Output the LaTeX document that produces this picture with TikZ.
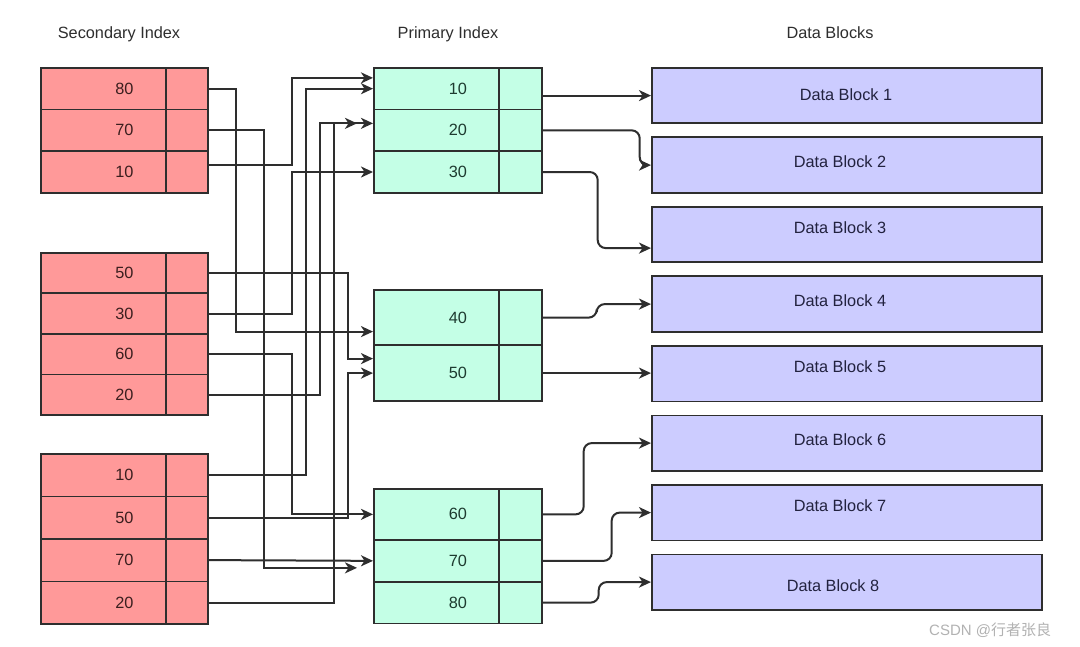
\documentclass[tikz,border=0pt]{standalone}
\usepackage{fontspec}
\setmainfont{Liberation Sans}
\newfontfamily\cjk{Noto Sans CJK SC}
\usetikzlibrary{arrows.meta,calc}
\definecolor{redfill}{HTML}{FF9999}
\definecolor{greenfill}{HTML}{C4FFE6}
\definecolor{bluefill}{HTML}{CCCCFF}
\definecolor{edge}{HTML}{2E2E2E}
\definecolor{sectext}{HTML}{3B1E1E}
\definecolor{pritext}{HTML}{1E3B30}
\definecolor{dbtext}{HTML}{22223F}
\definecolor{headtext}{HTML}{2E2E2E}
\begin{document}
\begin{tikzpicture}[x=1pt,y=-1pt,font=\fontsize{16.3}{19}\selectfont,
  cell/.style={draw=edge,line width=1.7pt,inner sep=0pt,anchor=north west},
  srow/.style={cell,fill=redfill,minimum width=167,text=sectext},
  prow/.style={cell,fill=greenfill,minimum width=168,text=pritext},
  sptr/.style={draw=edge,line width=1.7pt,inner sep=0pt,minimum width=42,anchor=north east},
  pptr/.style={draw=edge,line width=1.7pt,inner sep=0pt,minimum width=43,anchor=north east},
  dblock/.style={cell,fill=bluefill,minimum width=390,minimum height=55.5},
  dblabel/.style={text=dbtext,inner sep=0pt},
  header/.style={text=headtext,anchor=base,inner sep=0pt},
  conn/.style={draw=edge,line width=2pt,-{Stealth[length=12pt,width=11pt,inset=3.5pt]}},
  rconn/.style={conn,rounded corners=8pt}]
\fill[white] (0,0) rectangle (1080,647);
\useasboundingbox (0,0) rectangle (1080,647);

% headers
\node[header] (hs) at (119,38.5) {Secondary Index};
\node[header] (hp) at (448,38.5) {Primary Index};
\node[header] (hd) at (830,38.5) {Data Blocks};

% secondary index group 1
\node[srow,minimum height=41.67] (s1) at (40,67) {80};
\node[srow,minimum height=41.67] (s2) at (40,108.67) {70};
\node[srow,minimum height=41.67] (s3) at (40,150.33) {10};
% group 2
\node[srow,minimum height=40.5] (s4) at (40,252) {50};
\node[srow,minimum height=40.5] (s5) at (40,292.5) {30};
\node[srow,minimum height=40.5] (s6) at (40,333) {60};
\node[srow,minimum height=40.5] (s7) at (40,373.5) {20};
% group 3
\node[srow,minimum height=42.5] (s8) at (40,453) {10};
\node[srow,minimum height=42.5] (s9) at (40,495.5) {50};
\node[srow,minimum height=42.5] (s10) at (40,538) {70};
\node[srow,minimum height=42.5] (s11) at (40,580.5) {20};
% pointer cells
\foreach \n/\h in {s1/41.67,s2/41.67,s3/41.67,s4/40.5,s5/40.5,s6/40.5,s7/40.5,s8/42.5,s9/42.5,s10/42.5,s11/42.5}
  \node[sptr,minimum height=\h] (\n p) at (\n.north east) {};

% primary index
\node[prow,minimum height=41.67] (p1) at (373,67) {10};
\node[prow,minimum height=41.67] (p2) at (373,108.67) {20};
\node[prow,minimum height=41.67] (p3) at (373,150.33) {30};
\node[prow,minimum height=55.5] (p4) at (373,289) {40};
\node[prow,minimum height=55.5] (p5) at (373,344.5) {50};
\node[prow,minimum height=51] (p6) at (373,488) {60};
\node[prow,minimum height=42] (p7) at (373,539) {70};
\node[prow,minimum height=41.5] (p8) at (373,581) {80};
\foreach \n/\h in {p1/41.67,p2/41.67,p3/41.67,p4/55.5,p5/55.5,p6/51,p7/42,p8/41.5}
  \node[pptr,minimum height=\h] (\n p) at (\n.north east) {};

% data blocks
\node[dblock] (db1) at (651,67) {};
\node[dblock] (db2) at (651,136.5) {};
\node[dblock] (db3) at (651,206) {};
\node[dblock] (db4) at (651,275.5) {};
\node[dblock] (db5) at (651,345) {};
\node[dblock] (db6) at (651,414.5) {};
\node[dblock] (db7) at (651,484) {};
\node[dblock] (db8) at (651,553.5) {};
\node[dblabel] (t1) at (846,95) {Data Block 1};
\node[dblabel] (t2) at (840,162) {Data Block 2};
\node[dblabel] (t3) at (840,228) {Data Block 3};
\node[dblabel] (t4) at (840,301) {Data Block 4};
\node[dblabel] (t5) at (840,367) {Data Block 5};
\node[dblabel] (t6) at (840,440) {Data Block 6};
\node[dblabel] (t7) at (840,506) {Data Block 7};
\node[dblabel] (t8) at (833,586) {Data Block 8};

% secondary -> primary connectors
\draw[conn] (s1.east) -- ++(27,0) |- ($(p4.west)+(0,14)$);
\draw[conn] (s2.east) -- ++(55,0) |- ($(p7.west)+(-16,7)$);
\draw[conn] ($(s3.east)+(0,-7)$) -- ++(83,0) |- ($(p1.west)+(0,-10.8)$);
\draw[conn] (s4.east) -- ++(139,0) |- ($(p5.west)+(0,-14.5)$);
\draw[conn] (s5.east) -- ++(83,0) |- (p3.west);
\draw[conn] (s6.east) -- ++(83,0) |- (p6.west);
\draw[conn] (s7.east) -- ++(111,0) |- ($(p2.west)+(-16,-7)$);
\draw[conn] (s8.east) -- ++(97,0) |- (p1.west);
\draw[conn] (s9.east) -- ++(139,0) |- (p5.west);
\draw[conn] (s10.east) -- (p7.west);
\draw[conn] (s11.east) -- ++(125,0) |- ($(p2.west)+(0,-7)$);

% primary -> data block connectors
\draw[conn] (p1.east |- db1.west) -- (db1.west);
\draw[rconn] (p2.east) -- ++(97,0) |- (db2.west);
\draw[rconn] (p3.east) -- ++(55,0) |- ($(db3.west)+(0,13.5)$);
\draw[rconn] (p4.east) -- ++(54,0) |- (db4.west);
\draw[conn] (p5.east) -- (p5.east -| db5.west);
\draw[rconn] (p6.east) -- ++(41,0) |- (db6.west);
\draw[rconn] (p7.east) -- ++(69,0) |- (db7.west);
\draw[rconn] (p8.east) -- ++(56,0) |- (db8.west);

% watermark
\node[anchor=west,text=gray!60,inner sep=0pt,font=\fontsize{15}{18}\selectfont] (wm) at (929,630) {CSDN @{\cjk 行者张良}};
\end{tikzpicture}
\end{document}
